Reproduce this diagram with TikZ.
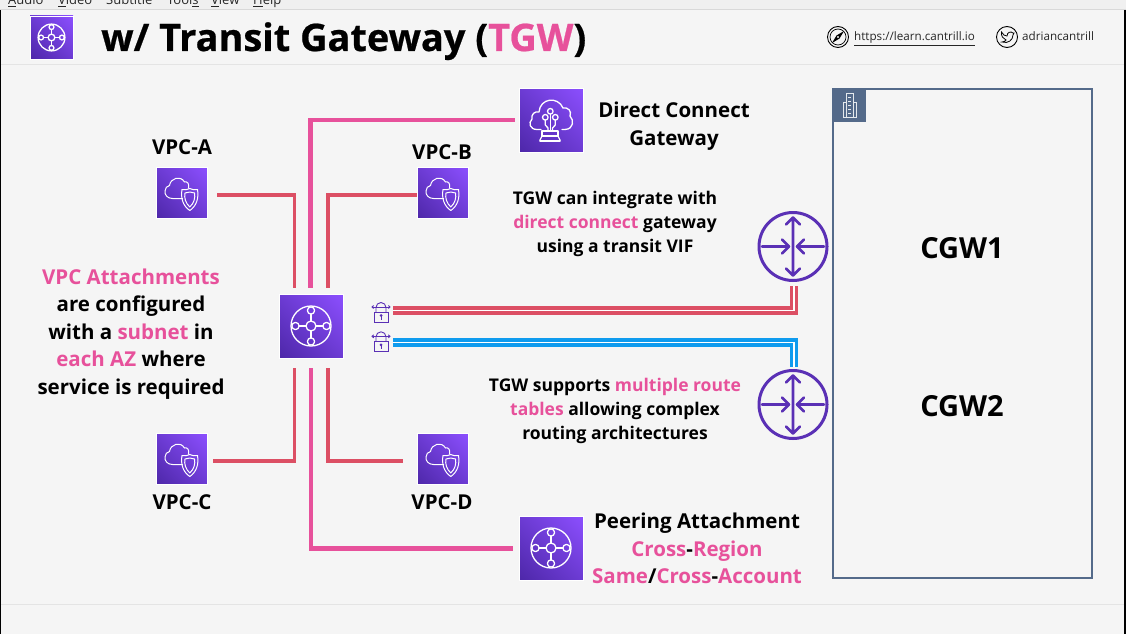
\documentclass[tikz,border=0pt]{standalone}
\usepackage{fontspec}
\setmainfont{Open Sans}
\newfontfamily\titlef[BoldFeatures={FakeBold=0.6}]{Open Sans}
\usetikzlibrary{shadings}
\definecolor{pagebg}{HTML}{F5F5F5}
\definecolor{menubg}{HTML}{F0F0F0}
\definecolor{rule}{HTML}{E4E4E4}
\definecolor{pinkc}{HTML}{E7519B}
\definecolor{redc}{HTML}{DC4F64}
\definecolor{bluec}{HTML}{0F9BEE}
\definecolor{purpc}{HTML}{5A30B5}
\definecolor{slatec}{HTML}{546A8A}
\definecolor{darkv}{HTML}{4D27A8}
\definecolor{lightv}{HTML}{8C4FFF}
\definecolor{midv}{HTML}{6C3BD3}
\newcommand\hl[1]{\textcolor{pinkc}{#1}}
\tikzset{
  x=1pt,y=-1pt,
  awsbox/.style={rectangle,inner sep=0pt,minimum size=#1,lower left=darkv,upper right=lightv,upper left=midv,lower right=midv,draw=white,line width=.4pt},
  vpclink/.style={draw=redc,line width=3.4pt},
  pinklink/.style={draw=pinkc,line width=4.4pt},
  redpair/.style={draw=redc,double=white,double distance=1.4pt,line width=3.4pt},
  bluepair/.style={draw=bluec,double=white,double distance=1.4pt,line width=3.4pt},
  stxt/.style={inner sep=0pt,align=center,font=\fontsize{17.5}{24.3}\selectfont\bfseries},
  mtxt/.style={inner sep=0pt,align=center,font=\fontsize{20.5}{27.6}\selectfont\bfseries},
  ltxt/.style={inner sep=0pt,font=\fontsize{29}{32}\selectfont\bfseries},
  menutxt/.style={inner sep=0pt,anchor=base west,font=\fontsize{13}{15}\selectfont,text=black!85},
  headtxt/.style={inner sep=0pt,font=\fontsize{11.65}{14}\selectfont,text=black!85},
  routercirc/.style={circle,draw=purpc,line width=3pt,minimum size=68pt,inner sep=0pt},
  glyph/.style={draw=white,line width=1.3pt,line cap=round,line join=round},
  % all glyphs drawn in px units, centred on the origin
  tgw glyph/.pic={
    \draw[glyph] (0,0) circle (20);
    \draw[glyph] (0,0) circle (5);
    \foreach \a in {0,90,180,270}{
      \draw[glyph] (\a:15.5) circle (3.6);
      \draw[glyph] (\a:5) -- (\a:11.9);}
  },
  dx glyph/.pic={
    \draw[glyph] (-10,9.5) -- (-14,9.5) .. controls (-21,9.5) and (-23,3) .. (-19,-1)
      .. controls (-20,-6) and (-16,-9) .. (-12,-8)
      .. controls (-11,-22) and (7,-24) .. (12,-12)
      .. controls (17,-13) and (21,-9) .. (19,-4)
      .. controls (23,0) and (23,9) .. (14,9.5) -- (11,9.5);
    \draw[glyph] (-.7,-8.7) circle (2.8);
    \draw[glyph] (-5.7,-2.7) circle (2.8);
    \draw[glyph] (4.3,-2.7) circle (2.8);
    \draw[glyph] (-.7,-5.9) -- (-.7,11);
    \draw[glyph] (-5.7,0.1) -- (-5.7,5) -- (-3,8) -- (-3,11);
    \draw[glyph] (4.3,0.1) -- (4.3,5) -- (1.5,8) -- (1.5,11);
    \draw[glyph] (-9,11) -- (7,11) -- (7,16) -- (-9,16) -- cycle;
    \draw[glyph] (-11,21) -- (-11,20) -- (-9,16);
    \draw[glyph] (9,21) -- (9,20) -- (7,16);
    \draw[glyph] (-11,21) -- (9,21);
  },
  vpc glyph/.pic={
    \draw[glyph,line width=1pt] (1,5.5) -- (-9,5.5) .. controls (-14,5.5) and (-17,2) .. (-16.5,-2)
      .. controls (-16.5,-5) and (-14.5,-7) .. (-12,-7.5)
      .. controls (-11,-15) and (-1,-18) .. (3,-11)
      .. controls (6,-12) and (8,-9) .. (7,-5);
    \draw[glyph,line width=1pt] (8.3,-4.5) .. controls (11,-3) and (13,-3) .. (16,-3.5)
      .. controls (17.5,5) and (15,13) .. (8.3,17.5)
      .. controls (1.5,13) and (-1,5) .. (.5,-3.5)
      .. controls (3.5,-3) and (5.5,-3) .. (8.3,-4.5) -- cycle;
    \draw[glyph,line width=1pt] (8.3,-1) .. controls (10,0) and (11,0) .. (13,0)
      .. controls (14,5) and (12.5,10) .. (8.3,14)
      .. controls (4,10) and (2.5,5) .. (3.5,0)
      .. controls (5.5,0) and (6.5,0) .. (8.3,-1) -- cycle;
  },
  lockgl/.style={draw=purpc,line width=.9pt},
  lock glyph/.pic={
    \draw[lockgl] (-7,0) rectangle (7,10);
    \draw[lockgl] (-5,0) -- (-5,-4.5) arc (180:360:5) -- (5,0);
    \draw[lockgl] (-9,-5) -- (9,-5);
    \draw[lockgl] (-7.3,-6.5) -- (-9,-5) -- (-7.3,-3.5);
    \draw[lockgl] (7.3,-6.5) -- (9,-5) -- (7.3,-3.5);
    \fill[purpc] (0,3.5) circle (1.5);
    \draw[lockgl] (0,4) -- (0,7.5);
  },
  router glyph/.pic={
    \draw[draw=purpc,line width=2.6pt,line cap=round,line join=round]
      (0,-29) -- (0,29)
      (-7,-22) -- (0,-29) -- (7,-22)
      (-7,22) -- (0,29) -- (7,22)
      (-31,0) -- (-4,0)
      (-11,-7) -- (-4,0) -- (-11,7)
      (31,0) -- (4,0)
      (11,-7) -- (4,0) -- (11,7);
  }
}
\begin{document}
\begin{tikzpicture}
\useasboundingbox (0,0) rectangle (1126,634);
\fill[pagebg] (0,0) rectangle (1126,634);
\begin{scope}
\clip (0,0) rectangle (1126,634);
\fill[menubg] (0,0) rectangle (1126,9);
\draw[draw=black!15,line width=1pt] (0,9.5) -- (1126,9.5);
\node[menutxt] (mAudio) at (8,5) {\underline{A}udio};
\node[menutxt] (mVideo) at (58,5) {\underline{V}ideo};
\node[menutxt] (mSub) at (106,5) {Subtitle};
\node[menutxt] (mTools) at (167,5) {Tool\underline{s}};
\node[menutxt] (mView) at (211,5) {\underline{V}iew};
\node[menutxt] (mHelp) at (253,5) {\underline{H}elp};
\end{scope}
\fill[black] (0,10) rectangle (1.4,634);
\fill[black] (1124,10) rectangle (1126,634);
\draw[draw=rule,line width=1pt] (1.4,64.5) -- (1124,64.5);
\draw[draw=rule,line width=1pt] (1.4,604.5) -- (1124,604.5);

% header
\node[awsbox=43pt] (hicon) at (51.5,37.5) {};
\pic[scale=.67] at (hicon) {tgw glyph};
\node[inner sep=0pt,anchor=base west,font=\titlef\fontsize{37.9}{40}\selectfont\bfseries] (title) at (101,51) {w/ Transit Gateway (\hl{TGW})};
\node[circle,draw=black,line width=.9pt,minimum size=21pt,inner sep=0pt] (compass) at (838,37) {};
\draw[black,line width=.7pt] (compass) circle (8);
\fill[black] (832,43) -- (836.5,35.5) -- (844,31) -- (839.5,38.5) -- cycle;
\fill[pagebg] (838,37) circle (1.2);
\node[headtxt,anchor=base west] (link) at (854,41) {\underline{https://learn.cantrill.io}};
\node[circle,draw=black,line width=.9pt,minimum size=21pt,inner sep=0pt] (bird) at (1007,37) {};
\draw[black,line width=.8pt] (1001.5,32) .. controls (1003,35) and (1005,36) .. (1007,36)
  .. controls (1007,32) and (1011,31) .. (1013,33) -- (1014,33) -- (1013,35)
  .. controls (1013,40) and (1008,44) .. (1002,42) .. controls (1004,42) and (1005,41) .. (1006,40)
  .. controls (1003,39) and (1001,36) .. (1001.5,32) -- cycle;
\node[headtxt,anchor=base west] (handle) at (1022,41) {adriancantrill};

% customer building
\node[rectangle,draw=slatec,line width=2pt,minimum width=259pt,minimum height=489pt,inner sep=0pt] (bldg) at (962.5,333.5) {};
\node[rectangle,fill=slatec,minimum size=33pt,inner sep=0pt] (tab) at (849.5,105.5) {};
\draw[draw=white!85!slatec,line width=.7pt]
  (846,93.5) rectangle (853,117)
  (843,102) rectangle (846,117)
  (853,102) rectangle (856.5,117)
  (848,97) -- (851,97) (848,101) -- (851,101) (848,105) -- (851,105) (848,109) -- (851,109) (848,113) -- (851,113);

% icons
\node[awsbox=64pt] (tgw) at (311,326) {};
\pic at (tgw) {tgw glyph};
\node[awsbox=64pt] (dxgw) at (551,120) {};
\pic at (dxgw) {dx glyph};
\node[awsbox=64pt] (peer) at (551,548) {};
\pic at (peer) {tgw glyph};
\node[awsbox=51pt] (vpca) at (181.5,193) {};
\pic at (vpca) {vpc glyph};
\node[awsbox=51pt] (vpcb) at (442.5,193) {};
\pic at (vpcb) {vpc glyph};
\node[awsbox=51pt] (vpcc) at (181.5,459) {};
\pic at (vpcc) {vpc glyph};
\node[awsbox=51pt] (vpcd) at (442.5,459) {};
\pic at (vpcd) {vpc glyph};
\node[inner sep=0pt,minimum width=18pt,minimum height=21pt] (lockr) at (381,311.5) {};
\pic at (381,312) {lock glyph};
\node[inner sep=0pt,minimum width=18pt,minimum height=21pt] (lockb) at (381,341) {};
\pic at (381,341.3) {lock glyph};
\node[routercirc] (cgwa) at (793,246.5) {};
\pic at (cgwa) {router glyph};
\node[routercirc] (cgwb) at (793,404.5) {};
\pic at (cgwb) {router glyph};

% TGW ports
\coordinate (pa) at (294.5,294);
\coordinate (pb) at (328,294);
\coordinate (pdx) at (310.5,294);
\coordinate (pc) at (294.5,358);
\coordinate (pd) at (328,358);
\coordinate (pp) at (311,358);

% connectors
\draw[vpclink,shorten <=10pt,shorten >=6pt] ([yshift=-2pt]vpca.east) -| (pa);
\draw[vpclink,shorten <=-.5pt,shorten >=6pt] ([yshift=-2pt,xshift=-.5pt]vpcb.west) -| (pb);
\draw[vpclink,shorten <=6pt,shorten >=10pt] ([yshift=-2pt]vpcc.east) -| (pc);
\draw[vpclink,shorten <=14pt,shorten >=10pt] ([yshift=-2pt]vpcd.west) -| (pd);
\draw[pinklink,shorten <=4pt,shorten >=6pt] (dxgw.west) -| (pdx);
\draw[pinklink,shorten <=6pt,shorten >=10pt] ([yshift=-.5pt]peer.west) -| (pp);
\draw[redpair,shorten <=3pt,shorten >=4pt] ([yshift=1pt]lockr.east) -| ([xshift=1pt]cgwa.south);
\draw[bluepair,shorten <=3pt,shorten >=2pt] ([yshift=-1.5pt]lockb.east) -| ([xshift=1pt]cgwb.north);

% labels
\node[mtxt] (la) at (182,147) {VPC-A};
\node[mtxt] (lb) at (442,152) {VPC-B};
\node[mtxt] (lc) at (182,502) {VPC-C};
\node[mtxt] (ld) at (442,502) {VPC-D};
\node[mtxt] (ldx) at (674,126) {Direct Connect\\Gateway};
\node[stxt] (tdx) at (615,224) {TGW can integrate with\\\hl{direct connect} gateway\\using a transit VIF};
\node[stxt] (trt) at (615,411) {TGW supports \hl{multiple route}\\\hl{tables} allowing complex\\routing architectures};
\node[mtxt] (tatt) at (131,334) {\hl{VPC Attachments}\\are configured\\with a \hl{subnet} in\\\hl{each AZ} where\\service is required};
\node[mtxt] (tpeer) at (697,548.5) {Peering Attachment\\\hl{Cross}-\hl{Region}\\\hl{Same}/\hl{Cross}-\hl{Account}};
\node[ltxt] (c1) at (962,248) {CGW1};
\node[ltxt] (c2) at (962,406) {CGW2};
\end{tikzpicture}
\end{document}
